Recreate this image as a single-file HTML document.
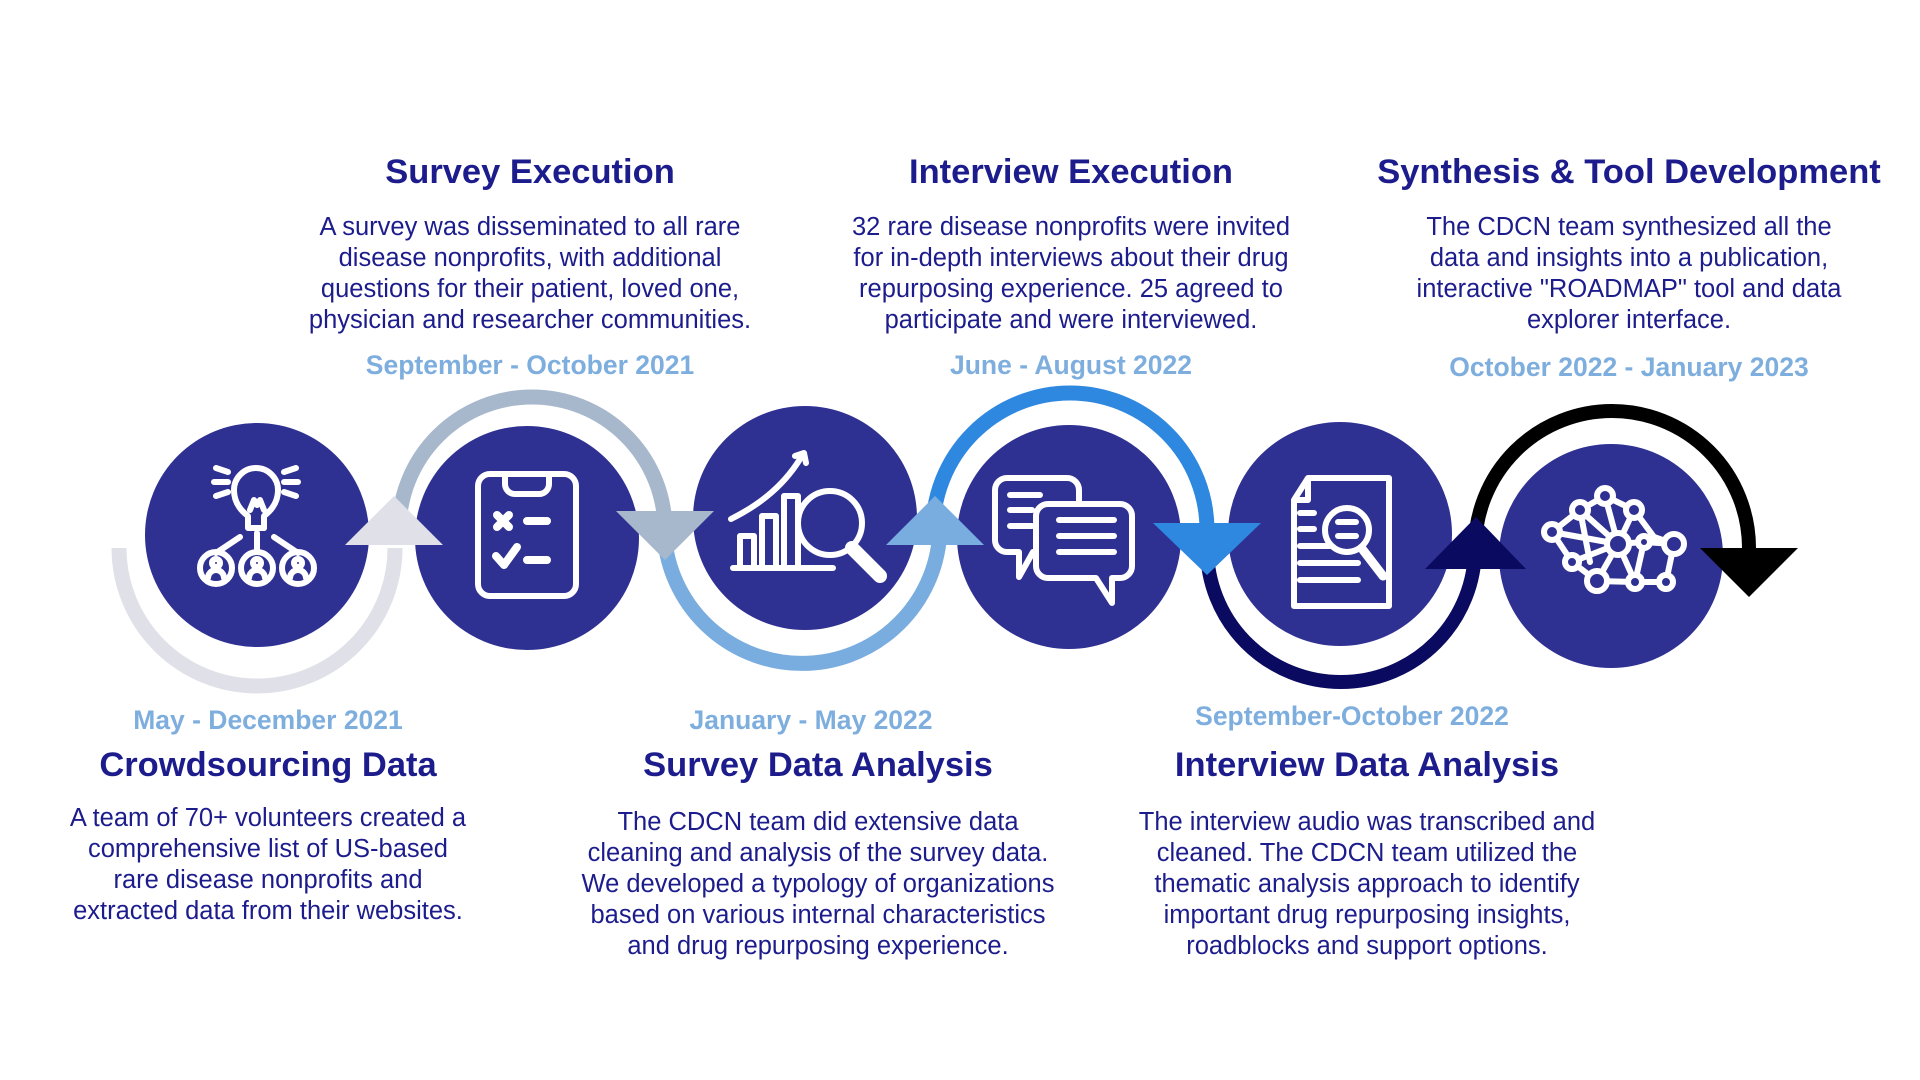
<!DOCTYPE html>
<html><head><meta charset="utf-8"><style>
html,body{margin:0;padding:0;background:#fff;}
svg{display:block;}
.t{font-family:"Liberation Sans",sans-serif;font-weight:bold;font-size:34.5px;fill:#1c1c8c;text-anchor:middle;}
.d{font-family:"Liberation Sans",sans-serif;font-weight:bold;font-size:26.5px;fill:#7eaede;text-anchor:middle;}
.b{font-family:"Liberation Sans",sans-serif;font-size:25.5px;fill:#1c1c8c;text-anchor:middle;}
.ic{fill:none;stroke:#fff;stroke-width:6;stroke-linecap:round;stroke-linejoin:round;}
</style></head><body>
<svg width="1920" height="1080" viewBox="0 0 1920 1080" xmlns="http://www.w3.org/2000/svg">
<path d="M119,548 A138,138 0 0 0 395,548" fill="none" stroke="#e0e1e8" stroke-width="15"/>
<path d="M399,530 A133,133 0 0 1 665,530" fill="none" stroke="#a8b8cc" stroke-width="15"/>
<path d="M665,542 A138,138 0 0 0 939,542" fill="none" stroke="#7aaddf" stroke-width="15"/>
<path d="M933,530 A137,137 0 0 1 1207,530" fill="none" stroke="#2f88e0" stroke-width="15"/>
<path d="M1207,548 A134,134 0 0 0 1475,548" fill="none" stroke="#0a0a60" stroke-width="14"/>
<path d="M1475,548 A137,137 0 0 1 1749,548" fill="none" stroke="#000" stroke-width="14"/>
<g fill="#2f3192">
<circle cx="257" cy="535" r="112"/>
<circle cx="527" cy="538" r="112"/>
<circle cx="805" cy="518" r="112"/>
<circle cx="1069" cy="537" r="112"/>
<circle cx="1340" cy="534" r="112"/>
<circle cx="1611" cy="556" r="112"/>
</g>
<polygon points="394,496 345,545 443,545" fill="#e0e1e8"/>
<polygon points="665,560 616,511 714,511" fill="#a8b8cc"/>
<polygon points="935,496 886,545 984,545" fill="#7aaddf"/>
<polygon points="1207,575 1153,523 1261,523" fill="#2f88e0"/>
<polygon points="1476,517 1425,569 1526,569" fill="#0a0a60"/>
<polygon points="1749,597 1700,548 1798,548" fill="#000"/>
<g class="ic" stroke-width="5">
<path d="M248,528 v-12 c-8,-6 -14,-14 -14,-26 a22,22 0 0 1 44,0 c0,12 -6,20 -14,26 v12 z"/>
<path d="M250,528 h14 M250,510 l4,-10 3,5 3,-5 4,10"/>
<path d="M214,482 h14 M216,468 l12,4 M216,496 l12,-4 M284,482 h14 M296,468 l-12,4 M296,496 l-12,-4"/>
<path d="M257,533 v18 M240,537 l-24,16 M274,537 l24,16"/>
<circle cx="216" cy="568" r="16"/><circle cx="257" cy="568" r="16"/><circle cx="298" cy="568" r="16"/>
<circle cx="216" cy="563" r="4"/><circle cx="257" cy="563" r="4"/><circle cx="298" cy="563" r="4"/>
<path d="M208,578 a8,8 0 0 1 16,0 M249,578 a8,8 0 0 1 16,0 M290,578 a8,8 0 0 1 16,0"/>
</g>
<g class="ic">
<rect x="478" y="474" width="98" height="122" rx="12"/>
<path d="M505,476 v8 a10,10 0 0 0 10,10 h24 a10,10 0 0 0 10,-10 v-8"/>
<path d="M497,515 l12,12 M509,515 l-12,12 M527,521 h20 M496,556 l8,9 13,-18 M527,560 h20" stroke-width="8"/>
</g>
<g class="ic">
<path d="M733,568 h100 M740,566 v-30 h14 v30 M762,566 v-50 h14 v50 M784,566 v-70 h14 v70"/>
<path d="M731,519 c30,-15 55,-35 72,-65 M795,456 l9,-3 2,10"/>
<circle cx="830" cy="523" r="32" fill="#2f3192"/>
<path d="M852,548 l28,28" stroke-width="14"/>
</g>
<g class="ic" stroke-width="5" transform="translate(-4,0)">
<path d="M1011,478 h60 a12,12 0 0 1 12,12 v50 a12,12 0 0 1 -12,12 h-34 l-14,25 v-25 h-12 a12,12 0 0 1 -12,-12 v-50 a12,12 0 0 1 12,-12 z"/>
<path d="M1052,504 h72 a12,12 0 0 1 12,12 v50 a12,12 0 0 1 -12,12 h-8 v25 l-16,-25 h-48 a12,12 0 0 1 -12,-12 v-50 a12,12 0 0 1 12,-12 z" fill="#2f3192"/>
<path d="M1014,495 h30 M1014,510 h22 M1014,526 h22 M1063,520 h55 M1063,536 h55 M1063,552 h55"/>
</g>
<g class="ic" stroke-width="5" transform="translate(-5,0)">
<path d="M1313,478 h81 v128 h-95 v-106 z M1299,500 h14 v-22"/>
<path d="M1305,513 h14 M1305,529 h14 M1305,546 h30 M1305,563 h58 M1305,580 h58"/>
<circle cx="1352" cy="530" r="22" fill="#2f3192"/>
<path d="M1343,522 h18 M1343,536 h18"/>
<path d="M1368,550 l20,26" stroke-width="9"/>
</g>
<g class="ic" stroke-width="5" transform="translate(-6,0)">
<path d="M1558,532 L1586,510 L1611,496 L1640,510 L1660,537 L1680,544 L1672,582 L1641,582 L1603,581 L1578,562 L1558,532 M1586,510 L1596,562 M1611,496 L1624,544 L1586,510 M1558,532 L1624,544 L1603,581 M1578,562 L1624,544 L1641,582 M1640,510 L1624,544 L1650,542 L1680,544 M1650,542 L1641,582 M1660,537 L1640,510"/>
<g fill="#2f3192">
<circle cx="1586" cy="510" r="8"/><circle cx="1611" cy="496" r="8"/><circle cx="1640" cy="510" r="8"/>
<circle cx="1558" cy="532" r="8"/><circle cx="1624" cy="544" r="11"/><circle cx="1650" cy="542" r="6"/>
<circle cx="1680" cy="544" r="10"/><circle cx="1578" cy="562" r="7"/><circle cx="1603" cy="581" r="10"/>
<circle cx="1641" cy="582" r="7"/><circle cx="1672" cy="582" r="7"/>
</g>
</g>
<text class="t" x="530" y="183">Survey Execution</text>
<text class="b" x="530" y="235">A survey was disseminated to all rare</text>
<text class="b" x="530" y="266">disease nonprofits, with additional</text>
<text class="b" x="530" y="297">questions for their patient, loved one,</text>
<text class="b" x="530" y="328">physician and researcher communities.</text>
<text class="d" x="530" y="374">September - October 2021</text>

<text class="t" x="1071" y="183">Interview Execution</text>
<text class="b" x="1071" y="235">32 rare disease nonprofits were invited</text>
<text class="b" x="1071" y="266">for in-depth interviews about their drug</text>
<text class="b" x="1071" y="297">repurposing experience. 25 agreed to</text>
<text class="b" x="1071" y="328">participate and were interviewed.</text>
<text class="d" x="1071" y="374">June - August 2022</text>

<text class="t" x="1629" y="183">Synthesis &amp; Tool Development</text>
<text class="b" x="1629" y="235">The CDCN team synthesized all the</text>
<text class="b" x="1629" y="266">data and insights into a publication,</text>
<text class="b" x="1629" y="297">interactive "ROADMAP" tool and data</text>
<text class="b" x="1629" y="328">explorer interface.</text>
<text class="d" x="1629" y="376">October 2022 - January 2023</text>

<text class="d" x="268" y="729">May - December 2021</text>
<text class="t" x="268" y="776">Crowdsourcing Data</text>
<text class="b" x="268" y="826">A team of 70+ volunteers created a</text>
<text class="b" x="268" y="857">comprehensive list of US-based</text>
<text class="b" x="268" y="888">rare disease nonprofits and</text>
<text class="b" x="268" y="919">extracted data from their websites.</text>

<text class="d" x="811" y="729">January - May 2022</text>
<text class="t" x="818" y="776">Survey Data Analysis</text>
<text class="b" x="818" y="830">The CDCN team did extensive data</text>
<text class="b" x="818" y="861">cleaning and analysis of the survey data.</text>
<text class="b" x="818" y="892">We developed a typology of organizations</text>
<text class="b" x="818" y="923">based on various internal characteristics</text>
<text class="b" x="818" y="954">and drug repurposing experience.</text>

<text class="d" x="1352" y="725">September-October 2022</text>
<text class="t" x="1367" y="776">Interview Data Analysis</text>
<text class="b" x="1367" y="830">The interview audio was transcribed and</text>
<text class="b" x="1367" y="861">cleaned. The CDCN team utilized the</text>
<text class="b" x="1367" y="892">thematic analysis approach to identify</text>
<text class="b" x="1367" y="923">important drug repurposing insights,</text>
<text class="b" x="1367" y="954">roadblocks and support options.</text>
</svg>
</body></html>
